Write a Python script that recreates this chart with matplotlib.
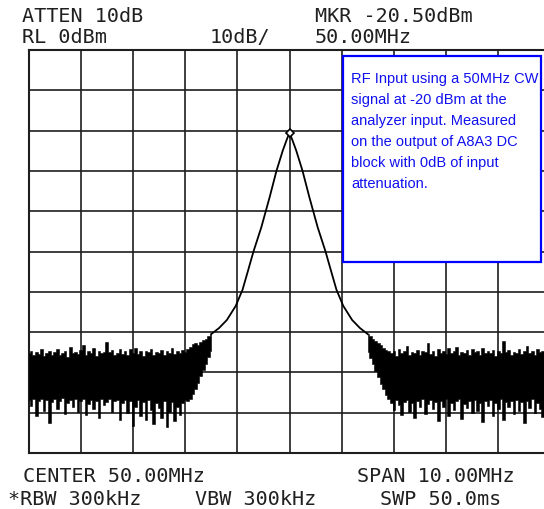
import numpy as np
import matplotlib.pyplot as plt
from matplotlib.patches import Rectangle

# analyzer settings
center_mhz = 50.0
span_mhz = 10.0
ref_level = 0.0
db_per_div = 10.0
marker_level = -20.5

# signal skirt: offset from carrier (MHz) vs level (dBm), same on both sides
skirt_offset = [0.00, 0.06, 0.13, 0.25, 0.38, 0.54, 0.69, 0.80, 0.90, 1.03, 1.20, 1.35, 1.45]
skirt_level = [-20.5, -22.5, -25.0, -30.0, -36.5, -44.0, -50.0, -55.0, -59.5, -63.5, -67.0, -69.0, -70.0]

# noise floor, max/min per 0.05 MHz bucket
noise_step = 0.05
left_start = 45.0
left_hi = [
    -75.2, -74.6, -75.8, -74.9, -75.5, -74.3, -76.0, -75.1, -74.8, -75.6,
    -75.0, -74.2, -75.7, -75.3, -74.7, -76.1, -73.6, -75.2, -74.9, -75.4,
    -74.5, -73.2, -75.6, -74.8, -75.1, -74.0, -75.9, -74.6, -75.3, -74.9,
    -72.4, -75.0, -74.4, -75.7, -75.2, -74.1, -75.5, -74.7, -75.8, -74.3,
    -75.1, -73.9, -75.4, -74.6, -75.9, -74.8, -75.0, -74.2, -75.6, -74.9,
    -75.3, -74.5, -75.7, -74.8, -75.1, -74.0, -75.4, -74.7, -75.2, -74.4,
    -74.9, -74.1, -73.8, -73.0, -72.6, -73.2, -72.4, -72.0, -71.6, -71.0,
    -70.5,
]
left_lo = [
    -86.9, -88.4, -86.5, -90.8, -87.2, -86.6, -89.5, -86.8, -92.6, -87.4,
    -86.7, -89.1, -87.0, -86.4, -90.2, -87.5, -86.9, -88.7, -86.6, -89.8,
    -87.1, -86.5, -90.5, -87.8, -86.8, -89.2, -87.0, -91.3, -86.7, -88.2,
    -87.3, -86.6, -89.9, -87.1, -86.9, -91.7, -87.5, -86.8, -90.1, -87.2,
    -93.4, -88.6, -86.9, -90.7, -87.4, -91.9, -86.8, -89.3, -92.8, -87.5,
    -88.9, -91.4, -87.0, -93.6, -89.8, -87.3, -92.1, -88.5, -90.6, -87.6,
    -86.9, -87.2, -86.5, -85.3, -84.0, -82.6, -81.0, -79.4, -77.8, -76.2,
    -74.8,
]
right_start = 51.5
right_hi = [
    -70.5, -71.0, -71.6, -72.2, -72.8, -73.3, -73.9, -74.4, -74.8,
    -75.3, -74.6, -75.9, -74.2, -75.1, -74.8, -73.4, -75.6, -74.9, -75.2,
    -74.4, -75.8, -74.7, -75.0, -72.8, -75.4, -74.6, -75.9, -74.3, -75.1,
    -74.8, -75.5, -74.0, -75.3, -74.7, -73.6, -75.8, -74.9, -75.2, -74.5,
    -75.7, -74.1, -75.0, -74.8, -75.6, -73.9, -75.3, -74.6, -75.1, -74.4,
    -75.9, -74.7, -75.2, -72.2, -75.0, -74.5, -75.7, -74.9, -75.3, -74.2,
    -75.5, -74.8, -73.5, -75.1, -74.6, -75.8, -74.3, -75.0, -74.7, -72.6,
    -75.2,
]
right_lo = [
    -75.0, -76.5, -78.0, -79.6, -81.2, -82.8, -84.2, -85.6, -86.7,
    -87.6, -89.4, -86.9, -88.2, -90.6, -87.3, -86.8, -89.9, -87.5, -91.2,
    -87.0, -88.7, -86.6, -90.3, -87.8, -86.9, -89.1, -87.4, -92.0, -87.1,
    -88.5, -86.7, -90.9, -87.6, -89.3, -87.0, -86.5, -91.5, -87.9, -88.8,
    -87.2, -90.1, -86.8, -89.6, -87.5, -92.4, -87.1, -88.3, -86.9, -90.7,
    -87.7, -89.0, -86.6, -91.8, -87.3, -88.6, -87.0, -90.4, -86.8, -89.7,
    -87.4, -92.6, -87.1, -88.9, -86.7, -90.0, -87.6, -89.2, -91.0, -87.3,
    -88.1,
]

header_left = ["ATTEN 10dB", "RL 0dBm"]
header_mid = "10dB/"
header_right = ["MKR -20.50dBm", "50.00MHz"]
footer = {
    "center": "CENTER 50.00MHz",
    "span": "SPAN 10.00MHz",
    "rbw": "*RBW 300kHz",
    "vbw": "VBW 300kHz",
    "swp": "SWP 50.0ms",
}
note_lines = [
    "RF Input using a 50MHz CW",
    "signal at -20 dBm at the",
    "analyzer input. Measured",
    "on the output of A8A3 DC",
    "block with 0dB of input",
    "attenuation.",
]

W, H = 544, 509
fig = plt.figure(figsize=(W / 100, H / 100), dpi=100)
fig.patch.set_facecolor("white")


def px(x, y):
    return x / W, 1 - y / H


# graticule (right edge runs slightly past the image)
ax = fig.add_axes([28.5 / W, 1 - 453 / H, 522 / W, 403 / H])
f0 = center_mhz - span_mhz / 2
f1 = center_mhz + span_mhz / 2
bottom = ref_level - 10 * db_per_div
ax.set_xlim(f0, f1)
ax.set_ylim(bottom, ref_level)
ax.set_xticks(np.linspace(f0, f1, 11))
ax.set_yticks(np.linspace(bottom, ref_level, 11))
ax.tick_params(length=0, labelbottom=False, labelleft=False)
ax.grid(True, color="#1e1e1e", lw=1.2)
for s in ax.spines.values():
    s.set_color("#1e1e1e")
    s.set_linewidth(1.5)

# noise floor as a stepped max/min band
for start, hi, lo in [(left_start, left_hi, left_lo), (right_start, right_hi, right_lo)]:
    xs = start + np.arange(len(hi)) * noise_step
    ax.fill_between(xs, lo, hi, step="mid", color="black", lw=0.4, zorder=3)

off = np.array(skirt_offset)
lev = np.array(skirt_level)
sx = np.concatenate([[left_start + (len(left_hi) - 1) * noise_step], center_mhz - off[::-1],
                     center_mhz + off[1:], [right_start]])
sy = np.concatenate([[left_hi[-1]], lev[::-1], lev[1:], [right_hi[0]]])
ax.plot(sx, sy, color="black", lw=1.3, zorder=3)
ax.plot([center_mhz], [marker_level], marker="D", ms=4.5, mfc="white",
        mec="black", mew=1.2, zorder=4)

mono = dict(family="DejaVu Sans Mono", fontsize=14.5, color="#202020", va="baseline")
fig.text(*px(22, 22), header_left[0], **mono)
fig.text(*px(22, 43), header_left[1], **mono)
fig.text(*px(210, 43), header_mid, **mono)
fig.text(*px(315, 22), header_right[0], **mono)
fig.text(*px(315, 43), header_right[1], **mono)
fig.text(*px(23, 482), footer["center"], **mono)
fig.text(*px(357, 482), footer["span"], **mono)
fig.text(*px(8, 505), footer["rbw"], **mono)
fig.text(*px(195, 505), footer["vbw"], **mono)
fig.text(*px(380, 505), footer["swp"], **mono)

# annotation box
bx, by = px(343, 262)
fig.add_artist(Rectangle((bx, by), 198 / W, 206 / H, transform=fig.transFigure,
                         facecolor="white", edgecolor="#0000ff", lw=1.6, zorder=5))
for i, line in enumerate(note_lines):
    fig.text(*px(351, 83 + i * 21), line, family="Liberation Sans", fontsize=10.5,
             color="#1010f0", va="baseline", zorder=6)

fig.savefig("out.png", dpi=100)
